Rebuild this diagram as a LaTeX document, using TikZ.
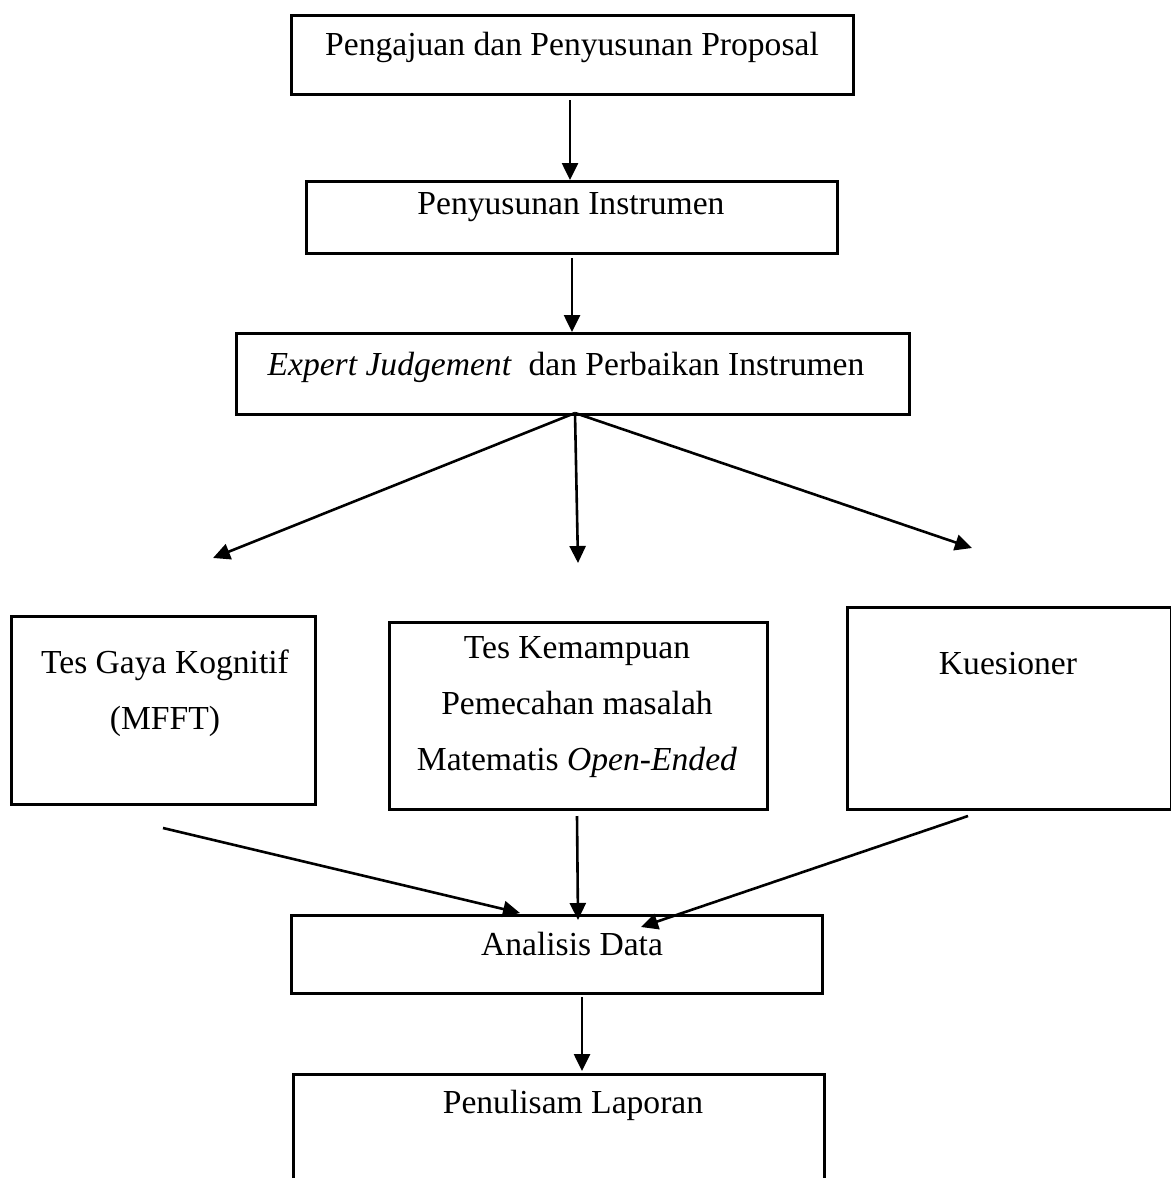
\documentclass[tikz,border=0pt]{standalone}
\usepackage{fontspec}
\setmainfont{Liberation Serif}
\usetikzlibrary{arrows.meta, positioning}
\tikzset{
    stagebox/.style={draw, line width=1.4pt, anchor=north west, inner sep=0pt},
    stagetext/.style={font=\fontsize{16.8}{28}\selectfont, align=center, inner sep=0pt},
    flow/.style={-{Triangle[length=8.5pt,width=8pt]}, line width=1.3pt}
}

\begin{document}
\begin{tikzpicture}[x=0.5pt, y=-0.5pt]
    \useasboundingbox (0,0) rectangle (1171,1178);
    \clip (0,0) rectangle (1171,1178);

    % Upper stages
    \node[stagebox, minimum width=281pt, minimum height=39.5pt] (propo) at (290,14) {};
    \node[stagetext] (propotxt) at (572,47) {Pengajuan dan Penyusunan Proposal};
    \node[stagebox, minimum width=265.5pt, minimum height=36pt] (instr) at (305,180) {};
    \node[stagetext] (instrtxt) at (571,207) {Penyusunan Instrumen};
    \node[stagebox, minimum width=336.5pt, minimum height=40.5pt] (expert) at (235,332) {};
    \node[stagetext] (experttxt) at (566,367) {\textit{Expert Judgement}\ \ dan Perbaikan Instrumen};

    % Three instruments
    \node[stagebox, minimum width=152pt, minimum height=94pt] (gaya) at (10,615) {};
    \node[stagetext] (gayatxt) at (165,693) {Tes Gaya Kognitif\\(MFFT)};
    \node[stagebox, minimum width=189pt, minimum height=93.5pt] (tes) at (388,621) {};
    \node[stagetext] (testxt) at (577,707) {Tes Kemampuan\\Pemecahan masalah\\Matematis \textit{Open-Ended}};
    \node[stagebox, minimum width=162pt, minimum height=101pt] (kues) at (846,606) {};
    \node[stagetext] (kuestxt) at (1008,664) {Kuesioner};

    % Lower stages
    \node[stagebox, minimum width=265.5pt, minimum height=39pt] (analisis) at (290,914) {};
    \node[stagetext] (analisistxt) at (572,944) {Analisis Data};
    \node[stagebox, minimum width=265.5pt, minimum height=70pt] (laporan) at (292,1073) {};
    \node[stagetext] (laporantxt) at (573,1105) {Penulisam Laporan};

    % Free arrow ends
    \coordinate (propoout) at (570,100);
    \coordinate (instrout) at (572,258);
    \coordinate (fanstart) at (575,413);
    \coordinate (fanL) at (213,558);
    \coordinate (fanM) at (578,563);
    \coordinate (fanR) at (972,548);
    \coordinate (gayaout) at (163,828);
    \coordinate (tesout) at (577,816);
    \coordinate (kuesout) at (968,816);
    \coordinate (inL) at (520,913);
    \coordinate (inM) at (578,920);
    \coordinate (inR) at (641,927);
    \coordinate (analisisout) at (582,997);
    \coordinate (laporanin) at (582,1071);

    % Arrows
    \draw[flow] (propoout) -- (propoout |- instr.north);
    \draw[flow] (instrout) -- (instrout |- expert.north);
    \draw[flow] (fanstart) -- (fanL);
    \draw[flow] (fanstart) -- (fanM);
    \draw[flow] (fanstart) -- (fanR);
    \draw[flow] (gayaout) -- (inL);
    \draw[flow] (tesout) -- (inM);
    \draw[flow] (kuesout) -- (inR);
    \draw[flow] (analisisout) -- (laporanin);
\end{tikzpicture}
\end{document}
